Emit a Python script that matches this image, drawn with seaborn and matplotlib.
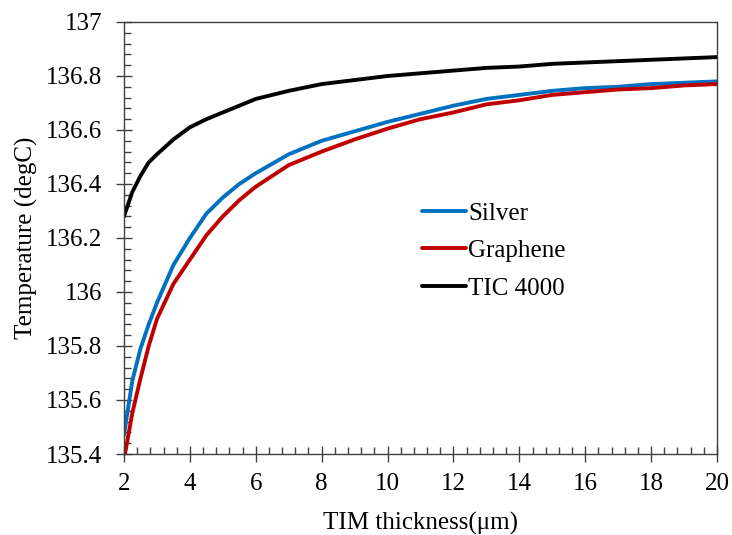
import numpy as np
import pandas as pd
import matplotlib
matplotlib.use("Agg")
import matplotlib.pyplot as plt
import seaborn as sns
from matplotlib.ticker import MultipleLocator

# TIM thickness (um) and temperature readings (degC) for each material
thickness = [2.0, 2.25, 2.5, 2.75, 3.0, 3.5, 4.0, 4.5, 5.0, 5.5, 6.0, 7.0, 8.0,
             9.0, 10.0, 11.0, 12.0, 13.0, 14.0, 15.0, 16.0, 17.0, 18.0, 19.0, 20.0]

silver = [135.47, 135.67, 135.79, 135.88, 135.96, 136.10, 136.20, 136.29, 136.35,
          136.40, 136.44, 136.51, 136.56, 136.595, 136.63, 136.66, 136.69, 136.715,
          136.73, 136.745, 136.755, 136.76, 136.77, 136.775, 136.78]

graphene = [135.38, 135.55, 135.68, 135.80, 135.90, 136.03, 136.12, 136.21, 136.28,
            136.34, 136.39, 136.47, 136.52, 136.565, 136.605, 136.64, 136.665, 136.695,
            136.71, 136.73, 136.74, 136.75, 136.755, 136.765, 136.77]

tic4000 = [136.28, 136.37, 136.43, 136.48, 136.51, 136.565, 136.61, 136.64, 136.665,
           136.69, 136.715, 136.745, 136.77, 136.785, 136.80, 136.81, 136.82, 136.83,
           136.835, 136.845, 136.85, 136.855, 136.86, 136.865, 136.87]

materials = ["Silver", "Graphene", "TIC 4000"]
colors = ["#0070C0", "#C00000", "#000000"]
ytick_labels = ["135.4", "135.6", "135.8", "136", "136.2", "136.4", "136.6", "136.8", "137"]
xtick_labels = ["2", "4", "6", "8", "10", "12", "14", "16", "18", "20"]

SERIF = ["Liberation Serif", "DejaVu Serif"]


def build_frame():
    # long form table for seaborn
    parts = []
    for name, vals in zip(materials, [silver, graphene, tic4000]):
        parts.append(pd.DataFrame({"thickness": thickness, "temp": vals, "material": name}))
    return pd.concat(parts, ignore_index=True)


def main():
    sns.set_theme(style="white")
    plt.rcParams["font.family"] = "serif"
    plt.rcParams["font.serif"] = SERIF
    plt.rcParams["text.color"] = "black"
    plt.rcParams["axes.labelcolor"] = "black"
    plt.rcParams["xtick.color"] = "black"
    plt.rcParams["ytick.color"] = "black"

    df = build_frame()

    fig = plt.figure(figsize=(7.32, 5.35), dpi=100)
    ax = fig.add_axes([0.1694, 0.1514, 0.8101, 0.8075])

    sns.lineplot(data=df, x="thickness", y="temp", hue="material", hue_order=materials,
                 palette=colors, linewidth=2.8, ax=ax)

    ax.set_xlim(2, 20)
    ax.set_ylim(135.4, 137)
    ax.set_xticks(np.arange(2, 20.1, 2))
    ax.set_xticklabels(xtick_labels, family=SERIF, fontsize=18)
    ax.xaxis.set_minor_locator(MultipleLocator(0.4))
    ax.set_yticks(np.arange(135.4, 137.01, 0.2))
    ax.set_yticklabels(ytick_labels, family=SERIF, fontsize=18)
    ax.yaxis.set_minor_locator(MultipleLocator(0.04))

    ax.tick_params(which="both", bottom=True, left=True, top=False, right=False)
    ax.tick_params(which="major", direction="inout", length=11, width=1.0,
                   color="#404040", labelcolor="black")
    ax.tick_params(which="minor", direction="in", length=5, width=1.0, color="#404040")
    ax.tick_params(axis="x", which="major", pad=8)
    ax.tick_params(axis="y", which="major", pad=10)

    for side in ["left", "bottom", "top", "right"]:
        ax.spines[side].set_visible(True)
        ax.spines[side].set_color("#404040")
        ax.spines[side].set_linewidth(1.0)

    ax.set_xlabel("TIM thickness(μm)", fontsize=18, family=SERIF, labelpad=12)
    ax.set_ylabel("Temperature (degC)", fontsize=18, family=SERIF, labelpad=6)

    ax.legend(loc="center left", bbox_to_anchor=(0.465, 0.47), frameon=False,
              prop={"family": SERIF, "size": 18},
              handlelength=1.75, handletextpad=0.1, labelspacing=0.6)

    fig.savefig("out.png", dpi=100)


if __name__ == "__main__":
    main()
